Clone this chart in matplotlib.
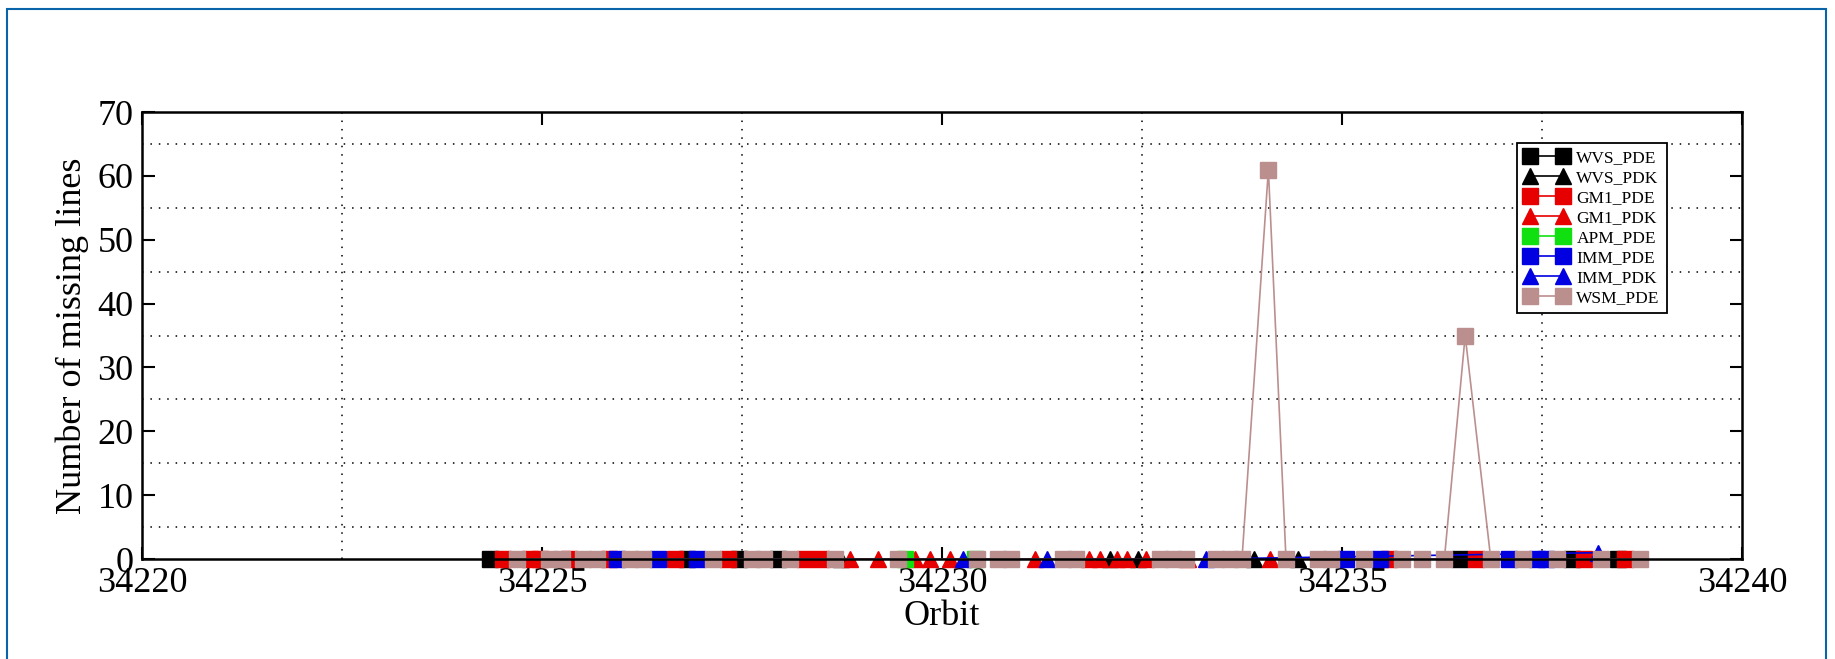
import matplotlib.pyplot as plt
from matplotlib.ticker import MultipleLocator
from matplotlib.patches import Rectangle

plt.rcParams['font.family'] = ['Liberation Serif', 'DejaVu Serif']

# orbit positions and number of missing lines, one pair of lists per product
wvs_pde_orbit = [34224.35, 34226.81, 34227.46, 34227.95, 34236.48, 34237.88, 34238.45]
wvs_pde_lines = [0, 0, 0, 0, 0, 0, 0]

wvs_pdk_orbit = [34228.74, 34232.10, 34232.45, 34233.90, 34234.45]
wvs_pdk_lines = [0, 0, 0, 0, 0]

gm1_pde_orbit = [34224.51, 34224.85, 34224.98, 34225.34, 34225.84, 34226.66, 34227.33,
                 34228.29, 34228.49, 34235.59, 34236.68, 34238.03, 34238.54]
gm1_pde_lines = [0, 0, 0, 0, 0, 0, 0, 0, 0, 0, 0, 0, 0]

gm1_pdk_orbit = [34228.85, 34229.20, 34229.66, 34229.85, 34230.10, 34231.16, 34231.84,
                 34231.98, 34232.19, 34232.31, 34232.55, 34233.08, 34234.10]
gm1_pdk_lines = [0, 0, 0, 0, 0, 0, 0, 0, 0, 0, 0, 0, 0]

apm_pde_orbit = [34229.54, 34230.41]
apm_pde_lines = [0, 0]

imm_pde_orbit = [34225.94, 34226.45, 34226.94, 34235.05, 34235.48, 34237.09, 34237.44, 34237.55]
imm_pde_lines = [0, 0, 0, 0, 0, 0, 0, 0]

imm_pdk_orbit = [34230.26, 34231.31, 34233.30, 34238.20]
imm_pdk_lines = [0, 0, 0, 1]

wsm_pde_orbit = [34224.69, 34225.09, 34225.25, 34225.51, 34225.69, 34226.10, 34226.26,
                 34227.14, 34227.63, 34227.78, 34228.10, 34228.66, 34229.45, 34230.44,
                 34230.70, 34230.86, 34231.51, 34231.68, 34232.73, 34232.89, 34233.05,
                 34233.43, 34233.60, 34233.75, 34234.08, 34234.30, 34234.70, 34234.86,
                 34235.28, 34235.75, 34236.00, 34236.28, 34236.54, 34236.86, 34237.26,
                 34237.69, 34238.24, 34238.73]
wsm_pde_lines = [0, 0, 0, 0, 0, 0, 0, 0, 0, 0, 0, 0, 0, 0, 0, 0, 0, 0, 0, 0, 0,
                 0, 0, 0, 61, 0, 0, 0, 0, 0, 0, 0, 35, 0, 0, 0, 0, 0]

series = [
    ('WVS_PDE', wvs_pde_orbit, wvs_pde_lines, 's', 'black'),
    ('WVS_PDK', wvs_pdk_orbit, wvs_pdk_lines, '^', 'black'),
    ('GM1_PDE', gm1_pde_orbit, gm1_pde_lines, 's', '#e60000'),
    ('GM1_PDK', gm1_pdk_orbit, gm1_pdk_lines, '^', '#e60000'),
    ('APM_PDE', apm_pde_orbit, apm_pde_lines, 's', '#10e010'),
    ('IMM_PDE', imm_pde_orbit, imm_pde_lines, 's', '#0000e0'),
    ('IMM_PDK', imm_pdk_orbit, imm_pdk_lines, '^', '#0000e0'),
    ('WSM_PDE', wsm_pde_orbit, wsm_pde_lines, 's', '#bc8f8f'),
]

fig = plt.figure(figsize=(18.35, 6.59), dpi=100, facecolor='white')
ax = fig.add_axes([0.0774, 0.1517, 0.8719, 0.6783])

for name, x, y, m, c in series:
    ax.plot(x, y, marker=m, color=c, markerfacecolor=c, markeredgecolor=c,
            markersize=11.5, linewidth=1.2, label=name, clip_on=False)

ax.set_xlim(34220, 34240)
ax.set_ylim(0, 70)
ax.xaxis.set_major_locator(MultipleLocator(5))
ax.xaxis.set_minor_locator(MultipleLocator(2.5))
ax.yaxis.set_major_locator(MultipleLocator(10))
ax.yaxis.set_minor_locator(MultipleLocator(5))
ax.xaxis.get_major_formatter().set_useOffset(False)

ax.grid(which='minor', color='black', linestyle=(0, (1, 4.5)), linewidth=1.1)
ax.tick_params(which='major', direction='in', length=9, width=1.5,
               top=True, right=True, labelsize=26, pad=6)
ax.tick_params(which='minor', length=0)
for s in ax.spines.values():
    s.set_linewidth(1.8)

ax.set_xlabel('Orbit', fontsize=26, labelpad=0)
ax.set_ylabel('Number of missing lines', fontsize=26, labelpad=6)

leg = ax.legend(loc='upper right', bbox_to_anchor=(0.953, 0.9306), borderaxespad=0,
                numpoints=2, fontsize=12.5, fancybox=False, edgecolor='black',
                framealpha=1, labelspacing=0.22, handlelength=2.5, handletextpad=0.5,
                borderpad=0.4)
leg.get_frame().set_linewidth(1.3)
for h in leg.legend_handles:
    h.set_markersize(11.5)

fig.add_artist(Rectangle((7 / 1835, -0.05), 1819 / 1835, 1.05 - 9 / 659,
                         transform=fig.transFigure, fill=False,
                         edgecolor='#0a64aa', linewidth=1.5))

fig.savefig('out.png', dpi=100, facecolor='white')
